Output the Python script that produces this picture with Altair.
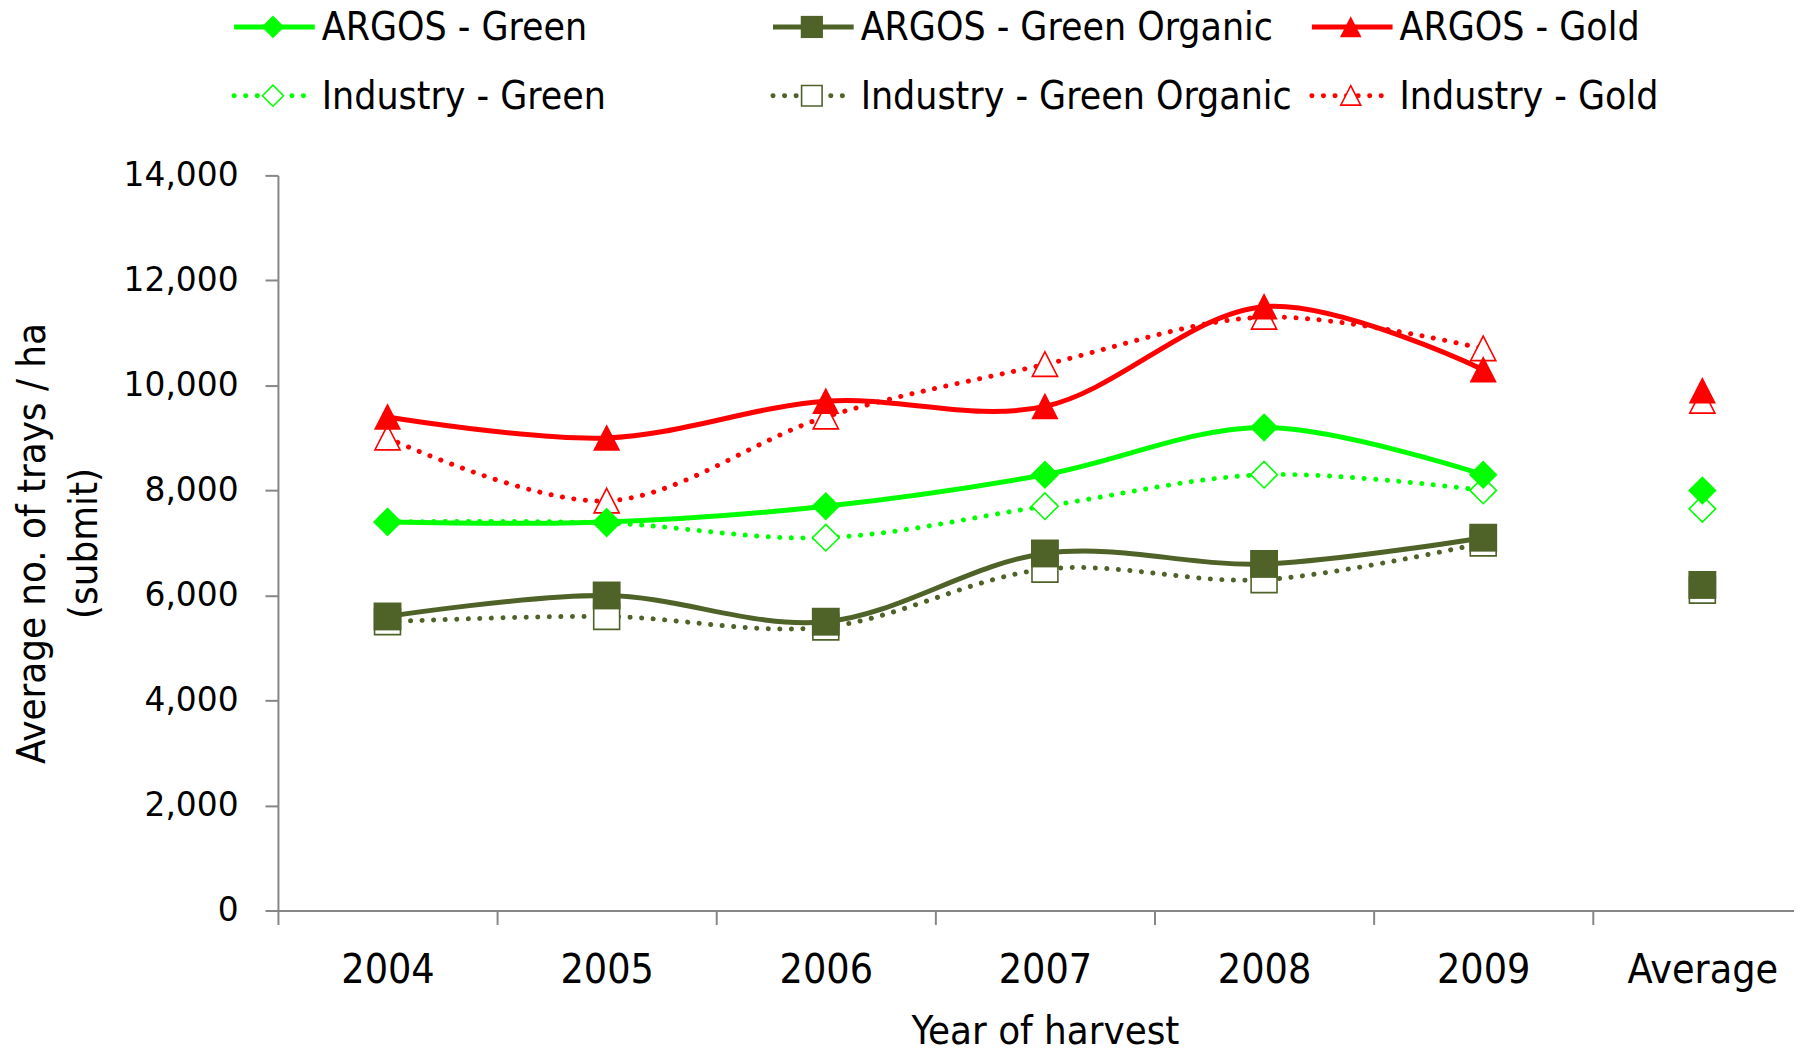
import altair as alt
import pandas as pd

# ---------------- data ----------------
categories = ["2004", "2005", "2006", "2007", "2008", "2009", "Average"]
years = categories[:6]

series_names = [
    "ARGOS - Green", "ARGOS - Green Organic", "ARGOS - Gold",
    "Industry - Green", "Industry - Green Organic", "Industry - Gold",
]

argos_green = [7400, 7400, 7700, 8300, 9200, 8300]
argos_green_organic = [5600, 6000, 5500, 6800, 6600, 7100]
argos_gold = [9400, 9000, 9700, 9600, 11500, 10300]
industry_green = [7400, 7380, 7100, 7700, 8300, 8000]
industry_green_organic = [5500, 5600, 5400, 6500, 6300, 7000]
industry_gold = [9000, 7800, 9400, 10400, 11300, 10700]

averages = [8000, 6200, 9900, 7650, 6100, 9700]

yearly = [argos_green, argos_green_organic, argos_gold,
          industry_green, industry_green_organic, industry_gold]

rows = []
for name, vals, avg in zip(series_names, yearly, averages):
    group = name.split(" - ")[0]
    for cat, v in zip(years, vals):
        rows.append({"series": name, "group": group, "cat": cat, "value": v, "kind": "year"})
    rows.append({"series": name, "group": group, "cat": "Average", "value": avg, "kind": "avg"})
df = pd.DataFrame(rows)

# ---------------- styles ----------------
GREEN = "#00FF00"
OLIVE = "#4F6228"
RED = "#FF0000"
AXIS = "#868686"
NARROW = "Liberation Sans Narrow, DejaVu Sans Condensed, Roboto Condensed, Roboto"
TRI = "M0,-1L1,0.95L-1,0.95Z"

color_scale = alt.Scale(domain=series_names,
                        range=[GREEN, OLIVE, RED, GREEN, OLIVE, RED])
shape_scale = alt.Scale(domain=series_names,
                        range=["diamond", "square", TRI, "diamond", "square", TRI])
size_scale = alt.Scale(domain=series_names, range=[820, 640, 560, 820, 640, 560])
leg_size_scale = alt.Scale(domain=series_names, range=[520, 400, 360, 520, 400, 360])

x_enc = alt.X("cat:N", sort=categories,
              scale=alt.Scale(domain=categories, range=[0, 1540],
                              paddingInner=0, paddingOuter=0),
              axis=alt.Axis(title="Year of harvest", labelAngle=0, grid=False,
                            tickBand="extent", domainColor=AXIS, domainWidth=2,
                            tickColor=AXIS, tickWidth=2, tickSize=14,
                            labelFont=NARROW, labelFontSize=41, labelColor="black",
                            labelPadding=26, titleFont=NARROW, titleFontSize=40,
                            titleFontWeight="normal", titleColor="black",
                            titlePadding=22))
y_enc = alt.Y("value:Q",
              scale=alt.Scale(domain=[0, 14000], nice=False, zero=True),
              axis=alt.Axis(values=list(range(0, 14001, 2000)), format=",.0f",
                            grid=False, domainColor=AXIS, domainWidth=2,
                            tickColor=AXIS, tickWidth=2, tickSize=13,
                            labelFont="DejaVu Sans", labelFontSize=33,
                            labelColor="black", labelPadding=27,
                            title=["Average no. of  trays / ha", "(submit)"],
                            titleFont=NARROW, titleFontSize=40,
                            titleFontWeight="normal", titleColor="black",
                            titleAngle=270, titleAlign="center",
                            titleBaseline="middle", titleLineHeight=52,
                            titleX=-246, titleY=369))

color_enc = alt.Color("series:N", scale=color_scale, legend=None)
shape_enc = alt.Shape("series:N", scale=shape_scale, legend=None)
size_enc = alt.Size("series:N", scale=size_scale, legend=None)

base = alt.Chart(df)

ind_lines = base.transform_filter(
    (alt.datum.group == "Industry") & (alt.datum.kind == "year")
).mark_line(interpolate="cardinal", tension=0, strokeWidth=5,
            strokeDash=[0.1, 11.5], strokeCap="round").encode(
    x=x_enc, y=y_enc, color=color_enc, detail="series:N")

ind_points = base.transform_filter(alt.datum.group == "Industry").mark_point(
    filled=False, fill="white", fillOpacity=1, strokeWidth=1.6, opacity=1
).encode(x=x_enc, y=y_enc, color=color_enc, shape=shape_enc, size=size_enc)

arg_lines = base.transform_filter(
    (alt.datum.group == "ARGOS") & (alt.datum.kind == "year")
).mark_line(interpolate="cardinal", tension=0, strokeWidth=5).encode(
    x=x_enc, y=y_enc, color=color_enc, detail="series:N")

arg_points = base.transform_filter(alt.datum.group == "ARGOS").mark_point(
    filled=True, opacity=1
).encode(x=x_enc, y=y_enc, color=color_enc, shape=shape_enc, size=size_enc)

data_layer = alt.layer(ind_lines, ind_points, arg_lines, arg_points)

# ---------------- legend (layout) ----------------
leg_rows = []
for i, name in enumerate(series_names):
    col = i % 3
    row = i // 3
    cx = -5 + col * 541
    cy = -149 + row * 69
    leg_rows.append({"series": name, "group": name.split(" - ")[0],
                     "cx": cx, "x0": cx - 39, "x1": cx + 42, "tx": cx + 49, "cy": cy})
leg = pd.DataFrame(leg_rows)
lbase = alt.Chart(leg)
px = lambda f: alt.X(f, type="quantitative", scale=None, axis=None)
py = lambda f: alt.Y(f, type="quantitative", scale=None, axis=None)
lsize = alt.Size("series:N", scale=leg_size_scale, legend=None)

leg_solid = lbase.transform_filter(alt.datum.group == "ARGOS").mark_rule(
    strokeWidth=5).encode(x=px("x0"), x2="x1", y=py("cy"), color=color_enc)
leg_dot = lbase.transform_filter(alt.datum.group == "Industry").mark_rule(
    strokeWidth=5, strokeDash=[0.1, 11.5], strokeCap="round").encode(
    x=px("x0"), x2="x1", y=py("cy"), color=color_enc)
leg_ind_pts = lbase.transform_filter(alt.datum.group == "Industry").mark_point(
    filled=False, fill="white", fillOpacity=1, strokeWidth=1.6, opacity=1
).encode(x=px("cx"), y=py("cy"), color=color_enc, shape=shape_enc, size=lsize)
leg_arg_pts = lbase.transform_filter(alt.datum.group == "ARGOS").mark_point(
    filled=True, opacity=1
).encode(x=px("cx"), y=py("cy"), color=color_enc, shape=shape_enc, size=lsize)
leg_text = lbase.mark_text(align="left", baseline="middle", font=NARROW,
                           fontSize=39, color="black", dy=1).encode(
    x=px("tx"), y=py("cy"), text="series:N")

legend_layer = alt.layer(leg_solid, leg_dot, leg_ind_pts, leg_arg_pts, leg_text)

chart = alt.layer(data_layer, legend_layer).resolve_scale(
    x="independent", y="independent", size="independent"
).properties(
    width=1522, height=738, background="white",
    autosize=alt.AutoSizeParams(type="none"),
    padding={"left": 271, "top": 166, "right": 0, "bottom": 138},
).configure_view(stroke="transparent", strokeOpacity=0, strokeWidth=0).configure_axis(
    grid=False
)

chart.save("out.html", embed_options={"renderer": "svg", "actions": False})
